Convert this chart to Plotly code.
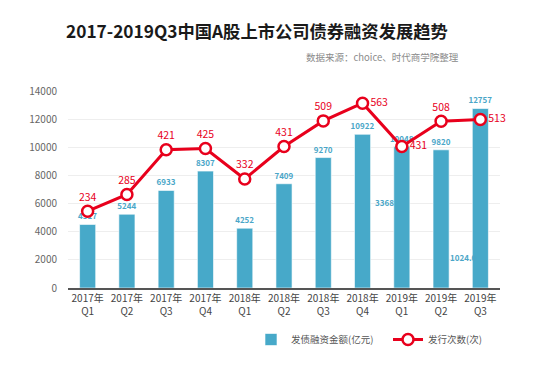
import plotly.graph_objects as go

categories = ["2017年<br>Q1", "2017年<br>Q2", "2017年<br>Q3", "2017年<br>Q4",
              "2018年<br>Q1", "2018年<br>Q2", "2018年<br>Q3", "2018年<br>Q4",
              "2019年<br>Q1", "2019年<br>Q2", "2019年<br>Q3"]
amount = [4517, 5244, 6933, 8307, 4252, 7409, 9270, 10922, 10048, 9820, 12757]
issues = [234, 285, 421, 425, 332, 431, 509, 563, 431, 508, 513]
stray_labels = ["3368", "1024.0"]
y_ticks = [0, 2000, 4000, 6000, 8000, 10000, 12000, 14000]

FONT = "Noto Sans CJK SC"
BAR = "#47a9c9"
RED = "#e8001c"

# page body has an 8px margin; work in screen pixels and convert
OFF = 8
W, H = 550 - OFF, 368 - OFF
L, R, T, B = 68 - OFF, 500 - OFF, 91 - OFF, 288 - OFF


def px_x(x):
    return (x - OFF - L) / (R - L)


def px_y(y):
    return (B - (y - OFF)) / (B - T)


label_pos = ["top center"] * len(issues)
for i in (7, 8, 10):
    label_pos[i] = "middle right"

fig = go.Figure()
fig.add_trace(go.Bar(
    x=categories, y=amount, name="发债融资金额(亿元)",
    marker=dict(color=BAR, line=dict(color="rgba(255,255,255,0.6)", width=1)),
    width=0.41,
    text=[f"<b>{v}</b>" for v in amount], textposition="outside",
    textfont=dict(color="#4aa6c8", size=8, family=FONT),
    constraintext="none",
    cliponaxis=False,
))
fig.add_trace(go.Scatter(
    x=categories, y=issues, name="发行次数(次)", yaxis="y2",
    mode="lines+markers+text",
    line=dict(color=RED, width=3),
    marker=dict(size=11, color="white", line=dict(color=RED, width=2.5)),
    text=[str(v) for v in issues], textposition=label_pos,
    textfont=dict(color=RED, size=10.5, family=FONT),
    cliponaxis=False,
))

fig.add_annotation(x=7.56, y=6110, xref="x", yref="y", text=f"<b>{stray_labels[0]}</b>",
                   showarrow=False, font=dict(color="#4aa6c8", size=8, family=FONT))
fig.add_annotation(x=9.57, y=2200, xref="x", yref="y", text=f"<b>{stray_labels[1]}</b>",
                   showarrow=False, font=dict(color="#4aa6c8", size=8, family=FONT))

fig.add_annotation(x=px_x(256.5), y=px_y(30), xref="paper", yref="paper",
                   text="<b>2017-2019Q3中国A股上市公司债券融资发展趋势</b>",
                   showarrow=False, font=dict(size=17.3, color="#1a1a1a", family=FONT),
                   xanchor="center", yanchor="middle")
fig.add_annotation(x=px_x(461), y=px_y(57), xref="paper", yref="paper",
                   text="数据来源：choice、时代商学院整理",
                   showarrow=False, font=dict(size=9.5, color="#8a8a8a", family=FONT),
                   xanchor="right", yanchor="middle")

fig.update_layout(
    width=W, height=H,
    margin=dict(l=L, r=W - R, t=T, b=H - B, autoexpand=False),
    paper_bgcolor="white", plot_bgcolor="white",
    font=dict(family=FONT, size=10, color="#555555"),
    showlegend=True,
    legend=dict(orientation="h", x=px_x(251), xanchor="left", y=px_y(325), yanchor="top",
                font=dict(size=9.5, color="#555555", family=FONT),
                itemwidth=30, tracegroupgap=0, entrywidth=92),
    xaxis=dict(range=[-0.5, 10.5], showline=True, linecolor="#555555", linewidth=1.5,
               tickfont=dict(size=10, color="#444444", family=FONT),
               ticks="", showgrid=False, automargin=False),
    yaxis=dict(range=[0, 14000], tickvals=y_ticks, ticktext=[str(v) for v in y_ticks],
               showgrid=True, gridcolor="#eeeeee", gridwidth=1, zeroline=False,
               tickfont=dict(size=10, color="#666666", family=FONT),
               ticklabelstandoff=10, automargin=False),
    yaxis2=dict(range=[0, 600], overlaying="y", side="right", visible=False,
                showgrid=False),
)

fig.write_html("out.html")
